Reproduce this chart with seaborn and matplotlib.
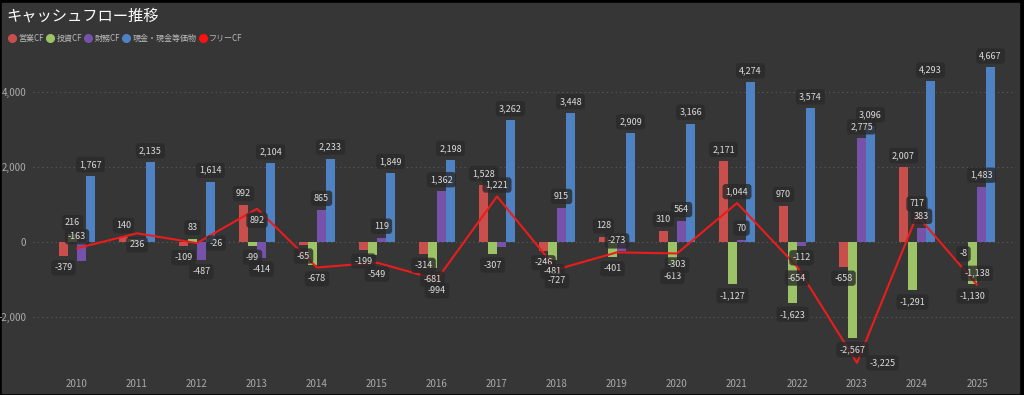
import numpy as np
import pandas as pd
import seaborn as sns
import matplotlib.pyplot as plt
from matplotlib.lines import Line2D
from matplotlib.patches import Rectangle

# data
years = [str(y) for y in range(2010, 2026)]
operating = [-379, 140, -109, 992, -65, -199, -314, 1528, -246, 128, 310, 2171, 970, -658, 2007, -8]
investing = [216, 96, 83, -99, -613, -350, -681, -307, -481, -401, -613, -1127, -1623, -2567, -1291, -1130]
financing = [-500, 110, -487, -414, 865, 119, 1362, -140, 915, -240, 564, 70, -112, 2775, 383, 1483]
cash = [1767, 2135, 1614, 2104, 2233, 1849, 2198, 3262, 3448, 2909, 3166, 4274, 3574, 3096, 4293, 4667]
free_cf = [-163, 236, -26, 892, -678, -549, -994, 1221, -727, -273, -303, 1044, -654, -3225, 717, -1138]

series_names = ["営業CF", "投資CF", "財務CF", "現金・現金等価物"]
line_name = "フリーCF"

# labels the original hides because they overlap others
hidden = {"投資CF": ["2011", "2014", "2015"], "財務CF": ["2010", "2011", "2017", "2019"]}
# where each free CF label sits relative to its point
free_pos = ["above", "below", "right", "below", "below", "below", "below", "above",
            "below", "above", "below", "above", "below", "right", "above", "above"]

colors = {"営業CF": "#c94f4d", "投資CF": "#9cc466", "財務CF": "#7652aa", "現金・現金等価物": "#4e82c3"}
line_color = "#ec1c1c"

df = pd.DataFrame({"year": years, "営業CF": operating, "投資CF": investing,
                   "財務CF": financing, "現金・現金等価物": cash})
long = df.melt(id_vars="year", var_name="type", value_name="value")

sns.set_theme(style="dark")
plt.rcParams['font.family'] = ['Noto Sans CJK JP', 'DejaVu Sans']

fig = plt.figure(figsize=(10.24, 3.95), dpi=100, facecolor="black")
fig.patches.append(Rectangle((2 / 1024, 2 / 395), 1017 / 1024, 390 / 395,
                             transform=fig.transFigure, color="#363636", zorder=-10))
ax = fig.add_axes([33 / 1024, 23 / 395, 983 / 1024, 317 / 395])
ax.set_facecolor("none")

sns.barplot(data=long, x="year", y="value", hue="type", hue_order=series_names,
            palette=colors, width=0.6, gap=0, errorbar=None, legend=False, ax=ax,
            saturation=1, linewidth=0, edgecolor="none", zorder=2)

sns.lineplot(x=years, y=free_cf, color=line_color, linewidth=1.5, sort=False, ax=ax, zorder=3)

box = dict(boxstyle="round,pad=0.35", fc="#2a2a2a", ec="none", alpha=0.8)
for name, cont in zip(series_names, ax.containers):
    labs = []
    for y, v in zip(years, df[name]):
        labs.append("" if y in hidden.get(name, []) else f"{v:,}")
    ax.bar_label(cont, labels=labs, padding=5, fontsize=6.5, color="#dddddd",
                 bbox=box, zorder=5)

offsets = {"above": ((0, 5), "center", "bottom"),
           "below": ((0, -5), "center", "top"),
           "right": ((9, 0), "left", "center")}
for i, (v, p) in enumerate(zip(free_cf, free_pos)):
    xy, ha, va = offsets[p]
    ax.annotate(f"{v:,}", (i, v), xytext=xy, textcoords="offset points",
                ha=ha, va=va, fontsize=6.5, color="#dddddd", bbox=box, zorder=6)

ax.set_xlim(-0.733, 15.65)
ax.set_ylim(-3470, 5000)
ax.set_yticks([-2000, 0, 2000, 4000])
ax.set_yticklabels([f"{t:,}" for t in [-2000, 0, 2000, 4000]])
ax.set_xlabel("")
ax.set_ylabel("")
ax.tick_params(colors="#aaaaaa", labelsize=7, length=0)
ax.tick_params(axis="y", pad=5)
ax.tick_params(axis="x", pad=5)
ax.yaxis.grid(True, linestyle=(0, (1, 3)), color="#5c5c5c", linewidth=0.8)
ax.xaxis.grid(False)
for s in ax.spines.values():
    s.set_visible(False)

fig.text(6 / 1024, 1 - 16 / 395, "キャッシュフロー推移", fontsize=11, color="white", va="center")

handles = [Line2D([], [], marker="o", linestyle="", markersize=5.5, color=colors[n]) for n in series_names]
handles.append(Line2D([], [], marker="o", linestyle="", markersize=5.5, color="#ff1010"))
fig.legend(handles, series_names + [line_name], loc="center left",
           bbox_to_anchor=(1 / 1024, 1 - 38 / 395), ncol=5, frameon=False, fontsize=5.8,
           labelcolor="#bbbbbb", handletextpad=0.25, columnspacing=0.3, handlelength=1.0)

fig.savefig("out.png", dpi=100, facecolor=fig.get_facecolor())
